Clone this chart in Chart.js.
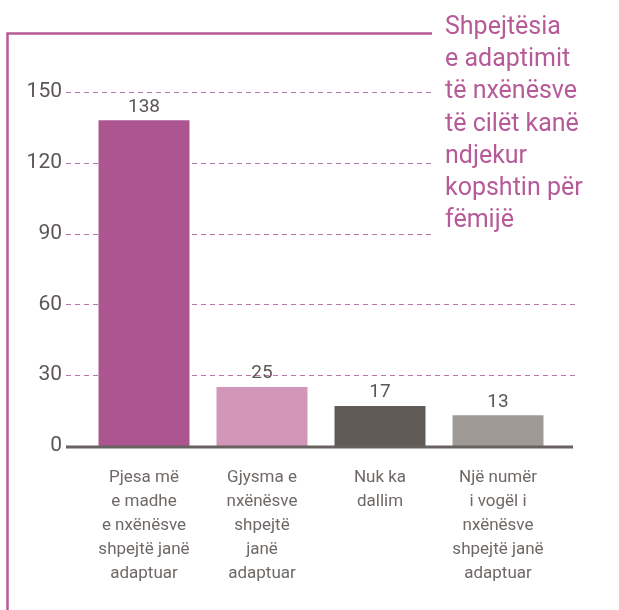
<!DOCTYPE html>
<html>
<head>
<meta charset="utf-8">
<script src="https://cdn.jsdelivr.net/npm/chart.js@4/dist/chart.umd.min.js"></script>
<style>
  body { margin: 0; background: #fff; }
  #wrap { width: 619px; height: 610px; position: relative; }
</style>
</head>
<body>
<div id="wrap"><canvas id="bars"></canvas></div>
<script>
// data
const categories = [
    ["Pjesa më", "e madhe", "e nxënësve", "shpejtë janë", "adaptuar"],
    ["Gjysma e", "nxënësve", "shpejtë", "janë", "adaptuar"],
    ["Nuk ka", "dallim"],
    ["Një numër", "i vogël i", "nxënësve", "shpejtë janë", "adaptuar"]
];
const values = [138, 25, 17, 13];
const yTicks = [0, 30, 60, 90, 120, 150];
const titleLines = ["Shpejtësia", "e adaptimit", "të nxënësve", "të cilët kanë", "ndjekur", "kopshtin për", "fëmijë"];
const barColors = ["#ad5590", "#d296b8", "#615b57", "#a09a97"];

const pink = "#b65b98";
const grey = "#5c5755";

// dashed grid lines, wider than the bar area
const gridLines = {
    id: "gridLines",
    beforeDatasetsDraw: function(chart) {
        const ctx = chart.ctx, y = chart.scales.y;
        ctx.save();
        ctx.strokeStyle = "#bc74a6";
        ctx.lineWidth = 1;
        ctx.setLineDash([5, 4]);
        yTicks.forEach(function(v) {
            if (v === 0) return;
            const py = Math.round(y.getPixelForValue(v)) + 0.5;
            ctx.beginPath();
            ctx.moveTo(66, py);
            ctx.lineTo(575, py);
            ctx.stroke();
        });
        ctx.restore();
    },
    afterDatasetsDraw: function(chart) {
        const ctx = chart.ctx, y = chart.scales.y;
        ctx.save();
        // baseline
        const py0 = y.getPixelForValue(0);
        ctx.strokeStyle = "#676260";
        ctx.lineWidth = 3;
        ctx.beginPath();
        ctx.moveTo(66, py0 + 1);
        ctx.lineTo(573, py0 + 1);
        ctx.stroke();
        // value labels
        ctx.fillStyle = grey;
        ctx.font = "19px Roboto";
        ctx.textAlign = "center";
        ctx.textBaseline = "bottom";
        chart.getDatasetMeta(0).data.forEach(function(bar, i) {
            ctx.fillText(values[i], bar.x, bar.y - 4);
        });
        ctx.restore();
    },
    afterDraw: function(chart) {
        const ctx = chart.ctx;
        ctx.save();
        // white box behind the title
        ctx.fillStyle = "#fff";
        ctx.fillRect(432, 0, 187, 242);
        // frame
        ctx.strokeStyle = pink;
        ctx.lineWidth = 2.5;
        ctx.beginPath();
        ctx.moveTo(432, 33.5);
        ctx.lineTo(7.5, 33.5);
        ctx.lineTo(7.5, 610);
        ctx.stroke();
        // title
        ctx.fillStyle = pink;
        ctx.font = "25px Roboto";
        ctx.textAlign = "left";
        ctx.textBaseline = "alphabetic";
        titleLines.forEach(function(t, i) {
            ctx.fillText(t, 445, 34 + i * 32.2);
        });
        ctx.restore();
    }
};

new Chart(document.getElementById("bars"), {
    type: 'bar',
    data: {
        labels: categories,
        datasets: [{
            data: values,
            backgroundColor: barColors,
            barPercentage: 0.771,
            categoryPercentage: 1
        }]
    },
    options: {
        responsive: true,
        maintainAspectRatio: false,
        animation: false,
        layout: { padding: { top: 92, right: 62, left: 0, bottom: 0 } },
        plugins: {
            legend: { display: false },
            tooltip: { enabled: false }
        },
        scales: {
            x: {
                grid: { display: false },
                border: { display: false },
                ticks: {
                    color: "#6e6966",
                    font: { family: "Roboto", size: 17, lineHeight: 1.41 },
                    padding: 12,
                    maxRotation: 0,
                    autoSkip: false
                },
                afterFit: function(scale) { scale.height = 164; }
            },
            y: {
                min: 0,
                max: 150,
                afterBuildTicks: function(scale) {
                    scale.ticks = yTicks.map(function(v) { return { value: v }; });
                },
                grid: { display: false, drawTicks: false },
                border: { display: false },
                ticks: {
                    color: grey,
                    font: { family: "Roboto", size: 21 },
                    padding: 23
                },
                afterFit: function(scale) { scale.width = 85; }
            }
        }
    },
    plugins: [gridLines]
});
</script>
</body>
</html>
